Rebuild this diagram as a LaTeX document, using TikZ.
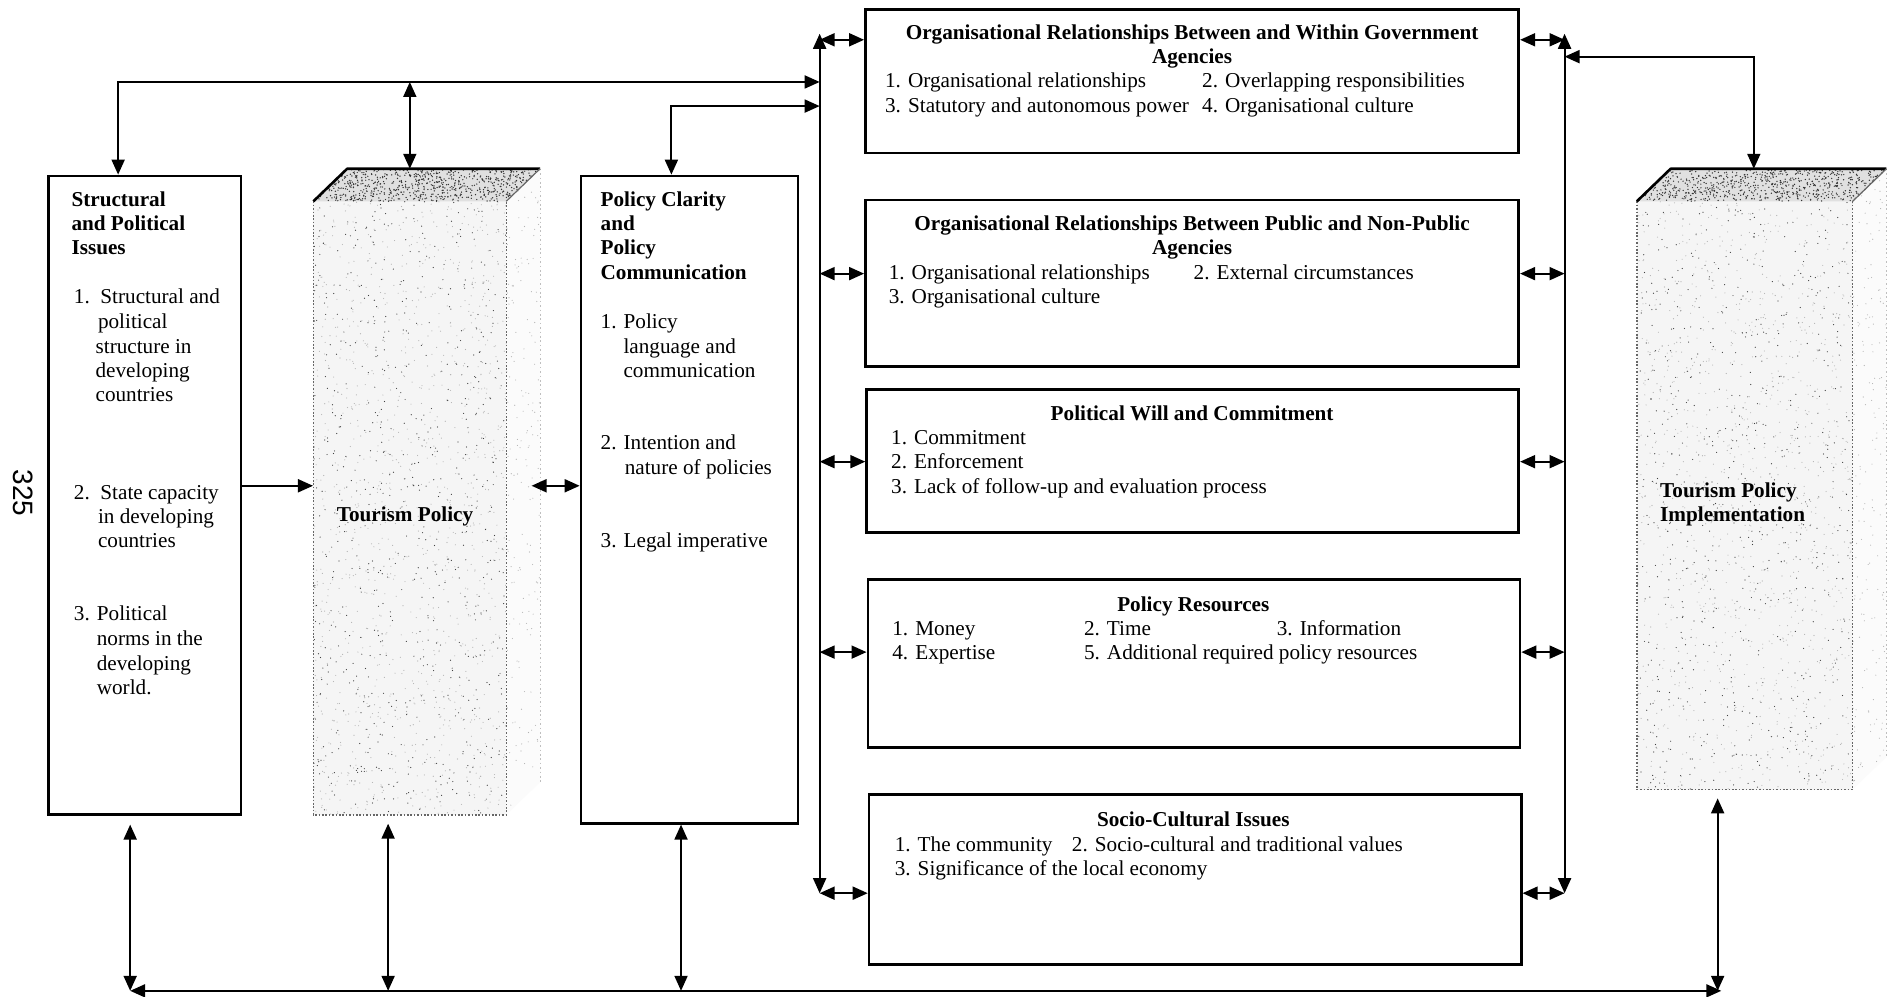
\documentclass[tikz,border=0pt]{standalone}
\usepackage{fontspec}
\setmainfont{Liberation Serif}
\newfontfamily\pagenofont{Liberation Sans}
\usetikzlibrary{arrows.meta,fit,calc}
\newcommand\bodysize{\fontsize{10.6}{12.2}\selectfont}

\begin{document}
\begin{tikzpicture}[x=0.6027pt,y=-0.6027pt,
  >={Triangle[length=7.5pt,width=6.5pt]},
  box/.style={draw, line width=1.35pt, inner sep=0pt},
  conn/.style={line width=0.95pt},
  lt/.style={anchor=base west, inner sep=0pt, font=\bodysize},
  bt/.style={anchor=base west, inner sep=0pt, font=\bodysize\bfseries},
  ct/.style={anchor=base, inner sep=0pt, font=\bodysize\bfseries},
  stipple/.style={black!60, line width=0.7pt, dash pattern=on 0.8pt off 0.9pt}]

\fill[white] (0,0) rectangle (1568,827);
\useasboundingbox (0,0) rectangle (1568,827);
\pgfmathsetseed{12}

% ---------- the two speckled blocks ----------
\foreach \fl/\fr/\bt/\nm in {260/420/676/cube1, 1358/1537/655/cube2} {
  \pgfmathsetmacro\w{\fr-\fl}
  \pgfmathsetmacro\h{\bt-167}
  \fill[black!4] (\fl,167) rectangle (\fr,\bt);
  \fill[black!1.5] (\fr,167) -- (\fr+28,140) -- (\fr+28,\bt-27) -- (\fr,\bt) -- cycle;
  \fill[black!12] (\fl,167) -- (\fl+28,140) -- (\fr+28,140) -- (\fr,167) -- cycle;
  % front face speckle
  \foreach \k in {1,...,1100}
    \fill[black!30] ({\fl+\w*rnd},{167+\h*rnd}) circle[radius=0.28pt];
  \foreach \k in {1,...,700}
    \fill[black!75] ({\fl+\w*rnd},{167+\h*rnd}) circle[radius=0.3pt];
  % top face speckle
  \foreach \k in {1,...,700} {
    \pgfmathsetmacro\u{rnd}\pgfmathsetmacro\v{rnd}
    \fill[black!80] ({\fl+\w*\u+28*\v},{167-27*\v}) circle[radius=0.36pt];
  }
  % side face speckle
  \foreach \k in {1,...,160} {
    \pgfmathsetmacro\u{rnd}\pgfmathsetmacro\v{rnd}
    \fill[black!30] ({\fr+28*\v},{167+\h*\u-27*\v}) circle[radius=0.28pt];
  }
  \draw[stipple] (\fl,167) -- (\fl,\bt) -- (\fr,\bt) -- (\fr,167);
  \draw[black!25, line width=0.5pt, dash pattern=on 0.8pt off 1.4pt] (\fr+28,140) -- (\fr+28,\bt-27);
  \draw[line width=1.3pt, line join=round] (\fl,167) -- (\fl+28,140) -- (\fr+28,140);
  \draw[black!60, line width=0.6pt] (\fr+28,140) -- (\fr,167);
  \node[fit={(\fl,167) (\fr,\bt)}, inner sep=0pt] (\nm) {};
}

% ---------- boxes ----------
\node[box, fit={(40,146) (200,676)}] (lbox) {};
\node[box, fit={(482,146) (662,683)}] (pbox) {};
\node[box, fit={(718,8) (1260,127)}] (b1) {};
\node[box, fit={(718,166) (1260,304)}] (b2) {};
\node[box, fit={(719,323) (1260,442)}] (b3) {};
\node[box, fit={(720,481) (1261,620)}] (b4) {};
\node[box, fit={(721,659) (1262,800)}] (b5) {};

% ---------- texts ----------
\node[rotate=-90, inner sep=0pt, font=\pagenofont\fontsize{14}{16}\selectfont] (pgno) at (19,409) {325};

\node[bt] (l1) at (59,171.5) {Structural};
\node[bt] (l2) at (59,191.5) {and Political};
\node[bt] (l3) at (59,211.5) {Issues};
\node[lt] (l4) at (61,252) {1.\ \ Structural and};
\node[lt] (l5) at (81,272.5) {political};
\node[lt] (l6) at (79,293) {structure in};
\node[lt] (l7) at (79,313) {developing};
\node[lt] (l8) at (79,333) {countries};
\node[lt] (l9) at (61,414) {2.\ \ State capacity};
\node[lt] (l10) at (81,434) {in developing};
\node[lt] (l11) at (81,454.5) {countries};
\node[lt] (l12) at (61,515) {3. Political};
\node[lt] (l13) at (80,535.5) {norms in the};
\node[lt] (l14) at (80,556) {developing};
\node[lt] (l15) at (80,576.5) {world.};

\node[ct] (tp) at (336,433) {Tourism Policy};
\node[bt] (tpi1) at (1377,413) {Tourism Policy};
\node[bt] (tpi2) at (1377,433) {Implementation};

\node[bt] (p1) at (498,171.5) {Policy Clarity};
\node[bt] (p2) at (498,191.5) {and};
\node[bt] (p3) at (498,211.5) {Policy};
\node[bt] (p4) at (498,232) {Communication};
\node[lt] (p5) at (498,272.5) {1. Policy};
\node[lt] (p6) at (517,293) {language and};
\node[lt] (p7) at (517,313) {communication};
\node[lt] (p8) at (498,373) {2. Intention and};
\node[lt] (p9) at (518,393.5) {nature of policies};
\node[lt] (p10) at (498,454) {3. Legal imperative};

\node[ct] (b1t1) at (989,32.5) {Organisational Relationships Between and Within Government};
\node[ct] (b1t2) at (989,52.5) {Agencies};
\node[lt] (b1a) at (734,72.5) {1. Organisational relationships};
\node[lt] (b1b) at (997,72.5) {2. Overlapping responsibilities};
\node[lt] (b1c) at (734,93) {3. Statutory and autonomous power};
\node[lt] (b1d) at (997,93) {4. Organisational culture};

\node[ct] (b2t1) at (989,191) {Organisational Relationships Between Public and Non-Public};
\node[ct] (b2t2) at (989,211) {Agencies};
\node[lt] (b2a) at (737,231.5) {1. Organisational relationships};
\node[lt] (b2b) at (990,231.5) {2. External circumstances};
\node[lt] (b2c) at (737,252) {3. Organisational culture};

\node[ct] (b3t) at (989,348.5) {Political Will and Commitment};
\node[lt] (b3a) at (739,368.5) {1. Commitment};
\node[lt] (b3b) at (739,389) {2. Enforcement};
\node[lt] (b3c) at (739,409.5) {3. Lack of follow-up and evaluation process};

\node[ct] (b4t) at (990,507) {Policy Resources};
\node[lt] (b4a) at (740,527) {1. Money};
\node[lt] (b4b) at (899,527) {2. Time};
\node[lt] (b4c) at (1059,527) {3. Information};
\node[lt] (b4d) at (740,547.5) {4. Expertise};
\node[lt] (b4e) at (899,547.5) {5. Additional required policy resources};

\node[ct] (b5t) at (990,686) {Socio-Cultural Issues};
\node[lt] (b5a) at (742,706) {1. The community};
\node[lt] (b5b) at (889,706) {2. Socio-cultural and traditional values};
\node[lt] (b5c) at (742,726.5) {3. Significance of the local economy};

% ---------- junction points ----------
\coordinate (j1) at (98,68);
\coordinate (j2) at (680,68);
\coordinate (j3) at (340,68);
\coordinate (c1top) at (340,140);
\coordinate (j4) at (557,88);
\coordinate (j5) at (680,88);
\coordinate (lbt) at (680,28);
\coordinate (lbb) at (680,741);
\coordinate (rbt) at (1298,28);
\coordinate (rbb) at (1298,741);
\coordinate (j6) at (1298,47);
\coordinate (j7) at (1455,47);
\coordinate (c2top) at (1455,140);
\coordinate (ma) at (230,403);
\coordinate (c1r) at (441,403);
\coordinate (bl) at (108,822);
\coordinate (br) at (1428,822);
\coordinate (bx2) at (322,822);
\coordinate (bx3) at (565,822);
\coordinate (bx4) at (1425,822);

% ---------- connectors ----------
\draw[conn,<->] (lbox.north -| j1) -- (j1) -- (j2);
\draw[conn,<->] (j3) -- (c1top);
\draw[conn,<->] (pbox.north -| j4) -- (j4) -- (j5);
\draw[conn,<->] (lbt) -- (lbb);
\draw[conn,<->] (rbt) -- (rbb);
\draw[conn,<->] (j6) -- (j7) -- (c2top);

\foreach \n/\yy in {1/33,2/227,3/383,4/541,5/741} {
  \coordinate (la\n) at (680,\yy);
  \coordinate (ra\n) at (1298,\yy);
  \draw[conn,<->] (la\n) -- (b\n.west |- la\n);
  \draw[conn,<->] (b\n.east |- ra\n) -- (ra\n);
}

\draw[conn,->] (lbox.east |- ma) -- (cube1.west |- ma);
\draw[conn,<->] (c1r) -- (pbox.west |- ma);

\draw[conn,<->] (bl) -- (br);
\draw[conn,<->] ($(lbox.south -| bl)+(0,7)$) -- (bl);
\draw[conn,<->] ($(cube1.south -| bx2)+(0,7)$) -- (bx2);
\draw[conn,<->] (pbox.south -| bx3) -- (bx3);
\draw[conn,<->] ($(cube2.south -| bx4)+(0,7)$) -- (bx4);

\end{tikzpicture}
\end{document}
